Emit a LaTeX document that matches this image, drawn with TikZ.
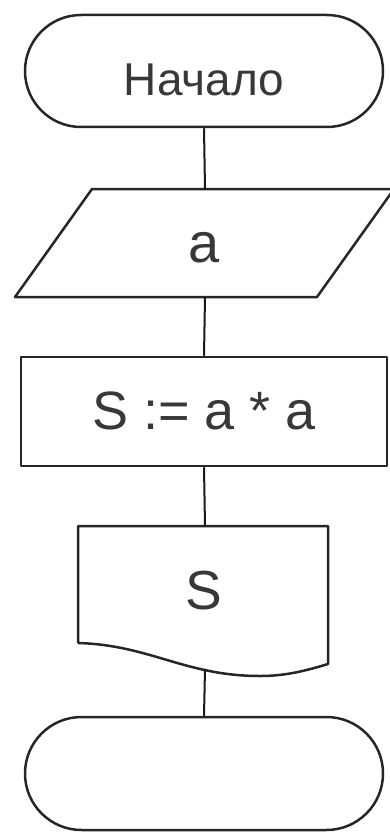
\documentclass[tikz,border=0pt]{standalone}
\usepackage{fontspec}
\setmainfont{Liberation Sans}
\usetikzlibrary{shapes.misc}
\begin{document}
\begin{tikzpicture}[x=1pt,y=-1pt,
  shapeline/.style={draw=black!85, line width=2.5pt, line join=round},
  conn/.style={draw=black!90, line width=2pt},
  term/.style={shapeline, rounded rectangle, minimum width=358pt, minimum height=112pt, inner sep=0pt},
  lbl/.style={inner sep=0pt, text=black!78}]
\useasboundingbox (0,0) rectangle (389,832);
% start terminator
\node[term] (start) at (204,71) {};
\node[lbl, font=\fontsize{46}{46}\selectfont] (starttxt) at (204,80) {Начало};
% input parallelogram
\draw[shapeline] (15,297) -- (92,189) -- (394,189) -- (317,297) -- cycle;
\coordinate (intop) at (205,189);
\coordinate (inbot) at (205,297);
\node[lbl, font=\fontsize{56}{56}\selectfont] (intxt) at (204,248) {a};
% process
\node[shapeline, rectangle, minimum width=366pt, minimum height=109pt, inner sep=0pt] (proc) at (204,411.5) {};
\node[lbl, font=\fontsize{54}{54}\selectfont] (proctxt) at (204,411) {S := a * a};
% output document
\draw[shapeline] (78,643) -- (78,526) -- (328,526) -- (328,664)
  .. controls (305,671) and (285,676) .. (260,676)
  .. controls (185,676) and (150,645) .. (78,643);
\coordinate (doctop) at (205,526);
\coordinate (docbot) at (205,669);
\node[lbl, font=\fontsize{55}{55}\selectfont] (doctxt) at (204,591) {S};
% end terminator
\node[term, minimum height=113pt] (stop) at (204,773.5) {};
% connectors
\draw[conn] (start.south) -- (intop);
\draw[conn] (inbot) -- (proc.north);
\draw[conn] (proc.south) -- (doctop);
\draw[conn] (docbot) -- (stop.north);
\end{tikzpicture}
\end{document}
